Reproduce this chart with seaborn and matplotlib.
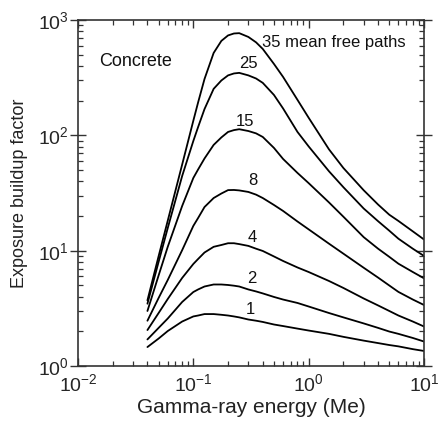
import matplotlib
matplotlib.use("Agg")
import matplotlib.pyplot as plt
import seaborn as sns
import pandas as pd
from matplotlib.ticker import LogLocator, NullFormatter

# ---- data ----
energy = [0.04, 0.05, 0.06, 0.08, 0.1, 0.11, 0.125, 0.15, 0.175, 0.2, 0.225,
          0.25, 0.3, 0.35, 0.4, 0.5, 0.6, 0.8, 1, 1.5, 2, 3, 4, 5, 6, 8, 10]
mfp35 = [3.71, 8.96, 18.2, 55.8, 134, 193, 308, 518, 659, 735, 764,
         769, 713, 640, 561, 416, 321, 203, 142, 75.6, 52.1, 33.4, 25.1, 20.5, 18.1, 14.7, 12.5]
mfp25 = [3.47, 8.0, 15.7, 44.4, 89.4, 118, 169, 253, 299, 331, 344,
         348, 331, 311, 285, 224, 171, 107, 80.1, 48.8, 35.5, 23.2, 18.0, 14.9, 12.7, 10.4, 9.0]
mfp15 = [3.00, 6.10, 10.8, 24.4, 42.7, 50.6, 63.0, 82.6, 95.9, 107, 111,
         113, 109, 104, 96.8, 77.8, 62.4, 47.2, 38.5, 26.2, 19.7, 13.1, 10.4, 8.84, 7.71, 6.53, 5.76]
mfp8 = [2.47, 3.89, 5.57, 10.1, 16.4, 19.2, 23.9, 28.6, 31.3, 33.5, 33.6,
        33.3, 32.3, 30.6, 28.6, 24.9, 22.1, 17.9, 15.3, 11.5, 9.42, 7.11, 5.84, 4.99, 4.39, 3.77, 3.38]
mfp4 = [2.05, 2.88, 3.81, 5.80, 7.67, 8.47, 9.64, 10.8, 11.2, 11.6, 11.6,
        11.4, 11.0, 10.4, 9.94, 8.91, 8.14, 7.15, 6.53, 5.46, 4.75, 3.85, 3.35, 3.00, 2.74, 2.43, 2.20]
mfp2 = [1.70, 2.14, 2.58, 3.59, 4.38, 4.61, 4.89, 5.09, 5.09, 5.04, 4.97,
        4.89, 4.61, 4.43, 4.26, 3.97, 3.77, 3.52, 3.28, 2.88, 2.64, 2.34, 2.14, 1.99, 1.90, 1.75, 1.63]
mfp1 = [1.46, 1.73, 2.01, 2.43, 2.69, 2.74, 2.82, 2.82, 2.78, 2.74, 2.69,
        2.64, 2.53, 2.47, 2.41, 2.29, 2.22, 2.11, 2.03, 1.90, 1.79, 1.66, 1.58, 1.52, 1.48, 1.40, 1.35]

series = {"35": mfp35, "25": mfp25, "15": mfp15, "8": mfp8,
          "4": mfp4, "2": mfp2, "1": mfp1}
curve_labels = ["35 mean free paths", "25", "15", "8", "4", "2", "1"]
label_x = [0.39, 0.298, 0.281, 0.326, 0.321, 0.319, 0.31]
label_y = [633, 416, 133, 40.2, 13.1, 5.68, 3.06]

rows = []
for name, vals in series.items():
    for e, v in zip(energy, vals):
        rows.append({"energy": e, "B": v, "mfp": name})
df = pd.DataFrame(rows)

sns.set_theme(style="ticks")
plt.rcParams["font.family"] = ["Liberation Sans", "DejaVu Sans"]
plt.rcParams["mathtext.fontset"] = "custom"
plt.rcParams["mathtext.rm"] = "Liberation Sans"
plt.rcParams["mathtext.it"] = "Liberation Sans:italic"

fig = plt.figure(figsize=(4.39, 4.24), dpi=100)
ax = fig.add_axes([78 / 439, 1 - 366 / 424, (424 - 78) / 439, (366 - 20) / 424])

sns.lineplot(data=df, x="energy", y="B", hue="mfp", palette=["black"] * 7,
             legend=False, estimator=None, linewidth=1.3, ax=ax)

ax.set_xscale("log")
ax.set_yscale("log")
ax.set_xlim(1e-2, 1e1)
ax.set_ylim(1e0, 1e3)

ax.xaxis.set_major_locator(LogLocator(base=10, numticks=10))
ax.yaxis.set_major_locator(LogLocator(base=10, numticks=10))
ax.xaxis.set_minor_locator(LogLocator(base=10, subs=range(2, 10), numticks=20))
ax.yaxis.set_minor_locator(LogLocator(base=10, subs=range(2, 10), numticks=20))
ax.xaxis.set_minor_formatter(NullFormatter())
ax.yaxis.set_minor_formatter(NullFormatter())

spine_col = "#333333"
for s in ax.spines.values():
    s.set_color(spine_col)
    s.set_linewidth(1.2)

ax.tick_params(axis="both", which="major", direction="in", length=6, width=1.0,
               color=spine_col, top=True, right=True, labelsize=14)
ax.tick_params(axis="x", which="major", pad=5)
ax.tick_params(axis="both", which="minor", direction="in", length=3.5, width=0.9,
               color=spine_col, top=True, right=True)
ax.tick_params(axis="y", which="major", direction="inout", length=11, pad=1)

ax.set_xlabel("Gamma-ray energy (Me)", fontsize=15, labelpad=2, color="#222222")
ax.set_ylabel("Exposure buildup factor", fontsize=13, labelpad=7, color="#222222")

ax.text(0.0152, 433, "Concrete", fontsize=13, ha="left", va="center", color="#111111")
for i, (t, xx, yy) in enumerate(zip(curve_labels, label_x, label_y)):
    ax.text(xx, yy, t, fontsize=12, ha="left" if i == 0 else "center",
            va="center", color="#111111")

fig.savefig("out.png", dpi=100, facecolor="white")
